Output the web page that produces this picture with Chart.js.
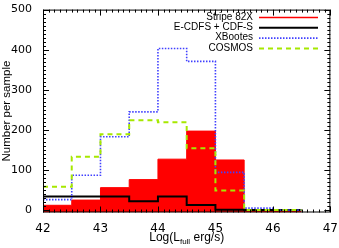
<!DOCTYPE html>
<html>
<head>
<meta charset="utf-8">
<script src="https://cdn.jsdelivr.net/npm/chart.js"></script>
<style>
  html, body { margin: 0; padding: 0; background: #fff; }
  #wrap { width: 339px; height: 248px; }
</style>
</head>
<body>
<div id="wrap"><canvas id="c" width="339" height="248"></canvas></div>
<script>
// bin edges in log L (0.5 dex bins), one value per bin
const edges = [42, 42.5, 43, 43.5, 44, 44.5, 45, 45.5, 46, 46.5];
const stripe82x = [12, 25, 56, 76, 127, 197, 125, 1, 0];
const ecdfs = [34, 34, 34, 22, 34, 13, 1, 0, 0];
const xbootes = [26, 87, 183, 245, 403, 371, 94, 5, 0];
const cosmos = [58, 133, 189, 224, 219, 154, 49, 0, 0];
const xTicks = [42, 43, 44, 45, 46, 47];
const yTicks = [0, 100, 200, 300, 400, 500];

const FONT = "'Liberation Sans', Helvetica, Arial, sans-serif";
const TICKFONT = "'DejaVu Sans', sans-serif";

// stepped histogram points: left edges + closing right edge
function steps(vals) {
  return edges.slice(0, vals.length + 1).map((e, i) => ({
    x: e,
    y: vals[Math.min(i, vals.length - 1)],
  }));
}

const frame = {
  id: "frame",
  afterDraw(chart) {
    const { ctx, chartArea: a, scales: { x, y } } = chart;
    ctx.save();
    ctx.strokeStyle = "#000";
    ctx.lineWidth = 1;
    ctx.strokeRect(a.left + 0.5, a.top + 0.5, a.right - a.left - 1, a.bottom - a.top - 1);
    ctx.beginPath();
    for (let v = 42; v <= 47.001; v += 0.1) {
      const px = Math.round(x.getPixelForValue(v)) + 0.5;
      const major = Math.abs(v - Math.round(v)) < 0.01;
      const len = major ? 6 : 3;
      ctx.moveTo(px, a.bottom); ctx.lineTo(px, a.bottom - len);
      ctx.moveTo(px, a.top); ctx.lineTo(px, a.top + len);
    }
    for (let v = 0; v <= 500; v += 10) {
      const py = Math.round(y.getPixelForValue(v)) + 0.5;
      const len = v % 100 === 0 ? 6 : 3;
      ctx.moveTo(a.left, py); ctx.lineTo(a.left + len, py);
      ctx.moveTo(a.right, py); ctx.lineTo(a.right - len, py);
    }
    ctx.stroke();

    // legend, top right
    ctx.font = "10px " + FONT;
    ctx.textAlign = "right";
    ctx.textBaseline = "middle";
    chart.data.datasets.forEach((ds, i) => {
      const yy = 17 + i * 10.3;
      ctx.fillStyle = "#000";
      ctx.fillText(ds.label, 253, yy);
      ctx.beginPath();
      ctx.strokeStyle = ds.borderColor;
      ctx.lineWidth = ds.legendWidth;
      ctx.setLineDash(ds.borderDash || []);
      ctx.moveTo(259, yy + 0.5); ctx.lineTo(318, yy + 0.5);
      ctx.stroke();
    });
    ctx.setLineDash([]);

    // axis titles
    ctx.fillStyle = "#000";
    ctx.textBaseline = "alphabetic";
    ctx.textAlign = "left";
    const big = "12px " + FONT, small = "8px " + FONT;
    const parts = [["Log(L", big, 0], ["full", small, 3], [" erg/s)", big, 0]];
    let w = 0;
    parts.forEach(([t, f]) => { ctx.font = f; w += ctx.measureText(t).width; });
    let cx = (a.left + a.right) / 2 - w / 2;
    parts.forEach(([t, f, dy]) => {
      ctx.font = f;
      ctx.fillText(t, cx, 241 + dy);
      cx += ctx.measureText(t).width;
    });
    ctx.save();
    ctx.translate(10, (a.top + a.bottom) / 2);
    ctx.rotate(-Math.PI / 2);
    ctx.textAlign = "center";
    ctx.font = "11.5px " + FONT;
    ctx.fillText("Number per sample", 0, 0);
    ctx.restore();
    ctx.restore();
  },
};

new Chart(document.getElementById("c"), {
  type: "line",
  data: {
    datasets: [
      {
        label: "Stripe 82X",
        data: steps(stripe82x),
        borderColor: "#ff0000",
        backgroundColor: "#ff0000",
        borderWidth: 1,
        legendWidth: 1.5,
        fill: "start",
        order: 4,
      },
      {
        label: "E-CDFS + CDF-S",
        data: steps(ecdfs),
        borderColor: "#000000",
        borderWidth: 2,
        legendWidth: 2,
        fill: false,
        order: 3,
      },
      {
        label: "XBootes",
        data: steps(xbootes),
        borderColor: "#4040ff",
        borderWidth: 1.6,
        legendWidth: 1.6,
        borderDash: [1.5, 1.5],
        fill: false,
        order: 2,
      },
      {
        label: "COSMOS",
        data: steps(cosmos),
        borderColor: "#a6e800",
        borderWidth: 2,
        legendWidth: 2,
        borderDash: [5, 4],
        fill: false,
        order: 1,
      },
    ],
  },
  options: {
    responsive: false,
    animation: false,
    layout: { padding: { top: 1, right: 6, left: 0, bottom: 0 } },
    elements: {
      point: { radius: 0 },
      line: { stepped: "before", tension: 0 },
    },
    plugins: { legend: { display: false }, tooltip: { enabled: false } },
    scales: {
      x: {
        type: "linear",
        min: 42,
        max: 47,
        grid: { display: false },
        border: { display: false },
        afterBuildTicks: (s) => { s.ticks = xTicks.map((v) => ({ value: v })); },
        afterFit: (s) => { s.height = 35.5; },
        ticks: {
          color: "#000",
          padding: 1,
          maxRotation: 0,
          font: { family: TICKFONT, size: 12 },
        },
      },
      y: {
        min: -6,
        max: 500,
        grid: { display: false },
        border: { display: false },
        afterBuildTicks: (s) => { s.ticks = yTicks.map((v) => ({ value: v })); },
        afterFit: (s) => { s.width = 43; },
        ticks: {
          color: "#000",
          padding: 3,
          font: { family: TICKFONT, size: 11 },
        },
      },
    },
  },
  plugins: [frame],
});
</script>
</body>
</html>
